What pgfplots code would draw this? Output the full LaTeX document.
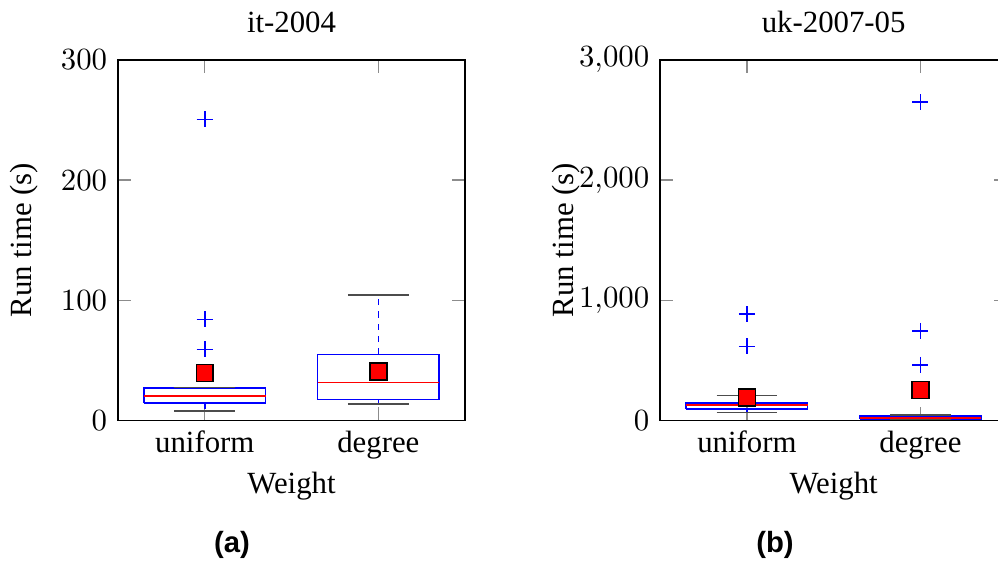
\documentclass[border=0pt]{standalone}
\usepackage{pgfplots}
\pgfplotsset{compat=1.18}
\usepackage{fontspec}
\setmainfont{Liberation Serif}
\newfontfamily\capfont{Liberation Sans}

\pgfplotsset{
  myaxis/.style={
    scale only axis,
    width=112.7pt, height=116.9pt,
    anchor=south west,
    xmin=0.5, xmax=2.5,
    xtick={1,2}, xticklabels={uniform,degree},
    ymin=0,
    scaled y ticks=false,
    tick style={color=black!45, line width=0.4pt},
    xlabel={Weight},
    ylabel={Run time (s)},
    title style={at={(axis description cs:0.5,1.024)}, anchor=base},
    xlabel style={at={(axis description cs:0.5,-0.2027)}, anchor=base},
    ylabel style={at={(axis description cs:-0.2485,0.5)}, anchor=base},
  },
  boxs/.style={blue, line width=0.5pt, mark=none},
  meds/.style={red, line width=0.5pt, mark=none},
  whis/.style={blue, line width=0.5pt, dash pattern=on 2pt off 2pt, mark=none},
  caps/.style={black!70, line width=0.5pt, mark=none},
  outl/.style={blue, only marks, mark=+, mark size=2.6pt, mark options={line width=0.5pt}},
  meanm/.style={only marks, mark=square*, mark size=2.75pt,
    mark options={fill=red, draw=black, solid, line width=0.5pt}},
}

\begin{document}
\begin{tikzpicture}
\begin{axis}[myaxis, at={(0pt,0pt)}, title={it-2004}, ymax=300, ytick={0,100,200,300}]
  % uniform
  \addplot[whis] coordinates {(1,26.7) (1,27.25)};
  \addplot[whis] coordinates {(1,14.4) (1,7.75)};
  \addplot[boxs] coordinates {(0.65,14.4) (1.35,14.4) (1.35,26.7) (0.65,26.7) (0.65,14.4)};
  \addplot[caps] coordinates {(0.825,27.25) (1.175,27.25)};
  \addplot[caps] coordinates {(0.825,7.75) (1.175,7.75)};
  \addplot[meds] coordinates {(0.65,20) (1.35,20)};
  \addplot[outl] coordinates {(1,250.5) (1,83.9) (1,58.9)};
  % degree
  \addplot[whis] coordinates {(2,54.7) (2,104.4)};
  \addplot[whis] coordinates {(2,17.2) (2,13.3)};
  \addplot[boxs] coordinates {(1.65,17.2) (2.35,17.2) (2.35,54.7) (1.65,54.7) (1.65,17.2)};
  \addplot[caps] coordinates {(1.825,104.4) (2.175,104.4)};
  \addplot[caps] coordinates {(1.825,13.3) (2.175,13.3)};
  \addplot[meds] coordinates {(1.65,31.4) (2.35,31.4)};
  % means
  \addplot[meanm] coordinates {(1,39.4) (2,40.6)};
\end{axis}
\begin{axis}[myaxis, at={(176.0pt,0pt)}, title={uk-2007-05}, ymax=3000, ytick={0,1000,2000,3000}]
  % uniform
  \addplot[whis] coordinates {(1,145) (1,204)};
  \addplot[whis] coordinates {(1,92) (1,64)};
  \addplot[boxs] coordinates {(0.65,92) (1.35,92) (1.35,145) (0.65,145) (0.65,92)};
  \addplot[caps] coordinates {(0.825,204) (1.175,204)};
  \addplot[caps] coordinates {(0.825,64) (1.175,64)};
  \addplot[meds] coordinates {(0.65,125) (1.35,125)};
  \addplot[outl] coordinates {(1,883) (1,614)};
  % degree
  \addplot[whis] coordinates {(2,36) (2,42)};
  \addplot[whis] coordinates {(2,8) (2,4)};
  \addplot[boxs] coordinates {(1.65,8) (2.35,8) (2.35,36) (1.65,36) (1.65,8)};
  \addplot[caps] coordinates {(1.825,42) (2.175,42)};
  \addplot[caps] coordinates {(1.825,4) (2.175,4)};
  \addplot[meds] coordinates {(1.65,20) (2.35,20)};
  \addplot[outl] coordinates {(2,2649) (2,743) (2,461)};
  % means
  \addplot[meanm] coordinates {(1,190) (2,251)};
\end{axis}
\node[font=\capfont\bfseries\fontsize{9.5}{11}\selectfont] at (37.0pt,-40.6pt) {(a)};
\node[font=\capfont\bfseries\fontsize{9.5}{11}\selectfont] at (213.3pt,-40.6pt) {(b)};
\pgfresetboundingbox
\useasboundingbox (-38.3pt,-45.8pt) rectangle (285.7pt,136.4pt);
\end{tikzpicture}
\end{document}
